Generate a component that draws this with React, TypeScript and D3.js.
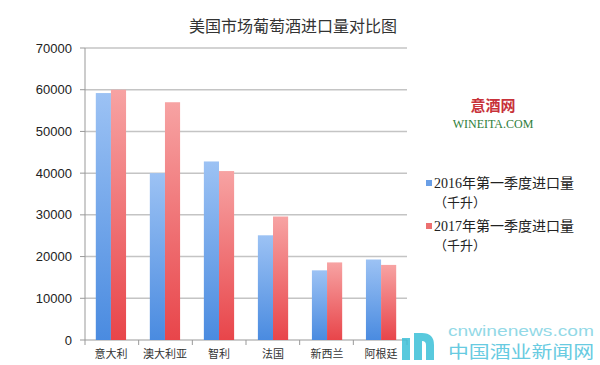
import React from "react";
import * as d3 from "d3";

const categories = ["意大利", "澳大利亚", "智利", "法国", "新西兰", "阿根廷"];
const series2016 = [59200, 40000, 42800, 25100, 16700, 19300];
const series2017 = [60000, 57000, 40500, 29600, 18600, 18000];
const yTicks = [0, 10000, 20000, 30000, 40000, 50000, 60000, 70000];
const seriesNames = ["2016年第一季度进口量", "2017年第一季度进口量"];
const unitLabel = "（千升）";

const W = 600;
const H = 365;
const plot = { left: 85, right: 407, top: 48, bottom: 340 };

export default function App() {
  const x = d3.scaleBand<string>().domain(categories).range([plot.left, plot.right]).paddingInner(0.44).paddingOuter(0.2);
  const y = d3.scaleLinear().domain([0, 70000]).range([plot.bottom, plot.top]);
  const bw = x.bandwidth() / 2;
  const boundaries = d3.range(categories.length + 1).map((i) => plot.left + i * ((plot.right - plot.left) / categories.length));

  return (
    <svg width={W} height={H} style={{ position: "absolute", left: 0, top: 0, background: "#fff" }}>
      <defs>
        <linearGradient id="gBlue" x1="0" y1="0" x2="0" y2="1">
          <stop offset="0" stopColor="#9cc2f4" />
          <stop offset="1" stopColor="#4a8be0" />
        </linearGradient>
        <linearGradient id="gRed" x1="0" y1="0" x2="0" y2="1">
          <stop offset="0" stopColor="#f7a3a3" />
          <stop offset="1" stopColor="#e8454a" />
        </linearGradient>
      </defs>
      <rect x={0} y={0} width={W} height={H} fill="#fff" />
      <text x={293} y={32} textAnchor="middle" fontFamily="Noto Sans CJK SC" fontSize={16} fill="#333">
        美国市场葡萄酒进口量对比图
      </text>
      {yTicks.map((t) => (
        <g key={t}>
          {t > 0 && <line x1={plot.left} x2={plot.right} y1={y(t)} y2={y(t)} stroke="#c4c4c4" strokeWidth={1.5} />}
          <line x1={plot.left - 5} x2={plot.left} y1={y(t)} y2={y(t)} stroke="#999" strokeWidth={1} />
          <text x={72} y={y(t) + 4.5} textAnchor="end" fontFamily="Liberation Sans" fontSize={13} fill="#222">
            {t}
          </text>
        </g>
      ))}
      <line x1={plot.left} x2={plot.left} y1={plot.top} y2={plot.bottom} stroke="#999" strokeWidth={1} />
      <line x1={plot.left} x2={plot.right} y1={plot.bottom} y2={plot.bottom} stroke="#999" strokeWidth={1} />
      {boundaries.map((b, i) => (
        <line key={i} x1={b} x2={b} y1={plot.bottom} y2={plot.bottom + 5} stroke="#999" strokeWidth={1} />
      ))}
      {categories.map((c, i) => (
        <g key={c}>
          <rect x={x(c)!} y={y(series2016[i])} width={bw} height={y(0) - y(series2016[i])} fill="url(#gBlue)" />
          <rect x={x(c)! + bw} y={y(series2017[i])} width={bw} height={y(0) - y(series2017[i])} fill="url(#gRed)" />
          <text x={x(c)! + bw} y={358} textAnchor="middle" fontFamily="Noto Sans CJK SC" fontSize={11} fill="#333">
            {c}
          </text>
        </g>
      ))}
      {seriesNames.map((s, i) => (
        <g key={s} transform={`translate(0, ${i * 43})`}>
          <rect x={426} y={180} width={6} height={6} fill={i === 0 ? "#6a9fe6" : "#ec7070"} />
          <text x={434} y={188} fontFamily="Liberation Serif, Noto Sans CJK SC" fontSize={14} fill="#222">
            {s}
          </text>
          <text x={434} y={207} fontFamily="Noto Sans CJK SC" fontSize={13} fill="#222">
            {unitLabel}
          </text>
        </g>
      ))}
      <text x={493} y={111} textAnchor="middle" fontFamily="Noto Sans CJK SC" fontWeight="bold" fontSize={15} fill="#c8323a">
        意酒网
      </text>
      <text x={493} y={128} textAnchor="middle" fontFamily="Liberation Serif" fontSize={12} fill="#2e7d3a">
        WINEITA.COM
      </text>
      <g opacity={0.85}>
        <path d="M402,338 h8 v22 h-8 z M414,333 h8 v27 h-8 z M422,333 q12,0 12,12 v15 h-8 v-15 q0,-4 -4,-4 z" fill="#3cc0d8" />
        <text x={448} y={336} fontFamily="Liberation Sans" fontSize={15} fill="#7fd3e3" textLength={146} lengthAdjust="spacingAndGlyphs">
          cnwinenews.com
        </text>
        <text x={448} y={358} fontFamily="Noto Sans CJK SC" fontSize={17} fill="#4ec3dc" textLength={146} lengthAdjust="spacingAndGlyphs">
          中国酒业新闻网
        </text>
      </g>
    </svg>
  );
}
